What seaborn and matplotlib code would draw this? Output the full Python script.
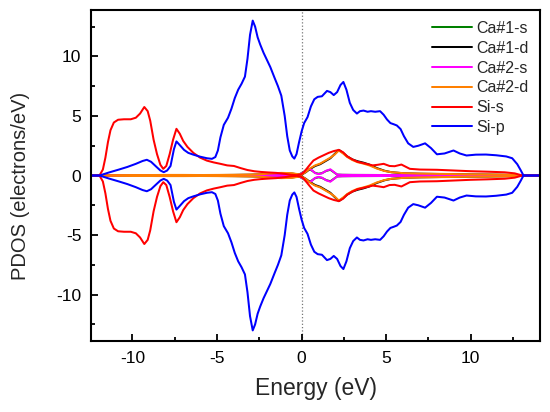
import numpy as np
import pandas as pd
import matplotlib
matplotlib.use("Agg")
import matplotlib.pyplot as plt
import seaborn as sns
from matplotlib.ticker import MultipleLocator

# ---------------- data (spin-up PDOS; spin-down is the mirror) ----------------
series_names = ["Ca#1-s", "Ca#1-d", "Ca#2-s", "Ca#2-d", "Si-s", "Si-p"]
series_colors = ["#008000", "#000000", "#FF00FF", "#FF8000", "#FF0000", "#0000FF"]

ca_s_energy = [-12.45, -11.9, -8.0, -4.0, -1.0, -0.2, 0.1, 0.3, 0.45, 0.6, 0.8, 1.0,
               1.2, 1.45, 1.7, 1.9, 2.1, 2.4, 3.0, 5.0, 8.0, 11.0, 13.12, 14.1]
ca1_s_pdos = [0, 0, 0.01, 0.02, 0.03, 0.05, 0.28, 0.5, 0.52, 0.42, 0.22, 0.15,
              0.2, 0.38, 0.48, 0.28, 0.08, 0.06, 0.05, 0.04, 0.03, 0.02, 0, 0]
ca2_s_pdos = [0, 0, 0.01, 0.02, 0.03, 0.05, 0.25, 0.5, 0.55, 0.45, 0.2, 0.12,
              0.18, 0.4, 0.52, 0.3, 0.08, 0.06, 0.05, 0.04, 0.03, 0.02, 0, 0]

ca_d_energy = [-12.45, -11.9, -11.0, -10.0, -9.0, -8.0, -7.0, -6.0, -5.0, -4.0, -3.0,
               -2.3, -1.8, -1.2, -0.6, -0.25, 0.0, 0.25, 0.5, 0.8, 1.1, 1.4, 1.7,
               1.95, 2.2, 2.45, 2.7, 3.0, 3.3, 3.65, 4.0, 4.45, 4.9, 5.3, 6.0, 7.0,
               8.0, 9.0, 10.0, 11.0, 12.0, 13.0, 13.12, 14.1]
ca1_d_pdos = [0, 0, 0.02, 0.03, 0.03, 0.04, 0.04, 0.03, 0.04, 0.05, 0.07,
              0.1, 0.15, 0.18, 0.17, 0.1, 0.07, 0.28, 0.55, 0.8, 0.95, 1.2, 1.45,
              1.8, 2.15, 1.9, 1.6, 1.35, 1.2, 1.08, 0.92, 0.62, 0.4, 0.28, 0.19, 0.15,
              0.13, 0.11, 0.09, 0.08, 0.06, 0.02, 0, 0]
ca2_d_pdos = [0, 0, 0.03, 0.04, 0.04, 0.05, 0.05, 0.04, 0.05, 0.06, 0.08,
              0.12, 0.18, 0.22, 0.2, 0.12, 0.08, 0.3, 0.6, 0.85, 1.0, 1.25, 1.5,
              1.75, 2.1, 1.85, 1.55, 1.3, 1.12, 1.0, 0.85, 0.58, 0.38, 0.28, 0.2, 0.16,
              0.14, 0.12, 0.1, 0.09, 0.07, 0.02, 0, 0]

si_s_energy = [-12.45, -11.95, -11.75, -11.6, -11.45, -11.3, -11.1, -10.85, -10.5, -10.1,
               -9.8, -9.55, -9.3, -9.1, -8.95, -8.75, -8.55, -8.35, -8.18, -8.0, -7.8,
               -7.6, -7.4, -7.2, -7.0, -6.75, -6.4, -6.0, -5.6, -5.2, -4.8, -4.4, -4.0,
               -3.6, -3.2, -2.8, -2.4, -2.0, -1.5, -1.0, -0.6, -0.27, 0.0, 0.15, 0.4,
               0.7, 1.0, 1.3, 1.6, 1.9, 2.2, 2.45, 2.7, 3.0, 3.3, 3.6, 3.9, 4.2, 4.5,
               4.85, 5.2, 5.5, 5.9, 6.4, 7.0, 8.0, 9.0, 10.0, 11.0, 12.0, 12.6, 13.05, 14.1]
si_s_pdos = [0, 0, 0.5, 1.5, 2.8, 3.8, 4.45, 4.68, 4.72, 4.72,
             4.85, 5.2, 5.75, 5.4, 4.6, 3.0, 1.8, 0.9, 0.56, 0.8, 1.8,
             3.0, 3.92, 3.5, 2.9, 2.4, 1.9, 1.5, 1.25, 1.1, 0.98, 0.85, 0.8,
             0.62, 0.46, 0.36, 0.3, 0.26, 0.22, 0.14, 0.06, 0.03, 0.12, 0.3, 0.75,
             1.26, 1.5, 1.7, 1.9, 2.05, 2.15, 1.95, 1.6, 1.35, 1.15, 1.05, 0.95, 0.85, 0.9,
             0.98, 0.8, 0.78, 0.92, 0.56, 0.5, 0.48, 0.42, 0.36, 0.32, 0.27, 0.18, 0, 0]

si_p_energy = [-12.45, -11.95, -11.4, -10.8, -10.3, -9.8, -9.4, -9.15, -8.9, -8.6, -8.35,
               -8.15, -7.95, -7.75, -7.55, -7.4, -7.2, -6.95, -6.7, -6.4, -6.0, -5.6,
               -5.3, -5.1, -4.95, -4.8, -4.6, -4.35, -4.15, -3.95, -3.75, -3.55, -3.35,
               -3.2, -3.05, -2.89, -2.75, -2.6, -2.45, -2.25, -2.05, -1.85, -1.6, -1.4,
               -1.2, -1.0, -0.85, -0.7, -0.55, -0.43, -0.3, -0.15, 0.0, 0.15, 0.35, 0.55,
               0.75, 0.95, 1.2, 1.5, 1.7, 1.9, 2.1, 2.3, 2.47, 2.65, 2.85, 3.05, 3.27,
               3.45, 3.66, 3.9, 4.1, 4.35, 4.64, 4.85, 5.05, 5.25, 5.45, 5.63, 5.85,
               6.05, 6.3, 6.6, 6.9, 7.3, 7.65, 8.0, 8.45, 8.98, 9.35, 9.75, 10.3, 10.9,
               11.5, 12.1, 12.45, 12.75, 12.95, 13.12, 14.1]
si_p_pdos = [0, 0, 0.25, 0.5, 0.72, 0.98, 1.22, 1.32, 1.15, 0.75, 0.42,
             0.28, 0.42, 0.8, 2.2, 2.86, 2.55, 2.15, 1.9, 1.75, 1.58, 1.45,
             1.4, 1.55, 2.1, 3.2, 4.25, 4.85, 5.6, 6.5, 7.2, 7.7, 8.3,
             9.8, 11.8, 13.0, 12.5, 11.6, 11.0, 10.3, 9.7, 9.1, 8.2, 7.5,
             6.7, 5.0, 3.3, 2.1, 1.6, 1.42, 1.8, 2.8, 3.7, 4.4, 4.9, 5.8,
             6.4, 6.6, 6.65, 7.1, 7.0, 6.75, 7.0, 7.6, 7.85, 7.2, 6.1, 5.5, 5.2,
             5.4, 5.45, 5.35, 5.4, 5.35, 5.4, 5.1, 4.7, 4.4, 4.3, 4.2, 3.9,
             3.3, 2.7, 2.4, 2.5, 2.7, 2.3, 1.78, 1.85, 2.1, 1.85, 1.68, 1.75, 1.76,
             1.7, 1.6, 1.45, 0.95, 0.45, 0, 0]

x_ticks = [-10, -5, 0, 5, 10]
y_ticks = [-10, -5, 0, 5, 10]

# ---------------- build long table ----------------
series_data = [
    ("Ca#1-s", ca_s_energy, ca1_s_pdos),
    ("Ca#1-d", ca_d_energy, ca1_d_pdos),
    ("Ca#2-s", ca_s_energy, ca2_s_pdos),
    ("Ca#2-d", ca_d_energy, ca2_d_pdos),
    ("Si-s", si_s_energy, si_s_pdos),
    ("Si-p", si_p_energy, si_p_pdos),
]
rows = []
for name, e, d in series_data:
    for spin, sign in (("up", 1.0), ("down", -1.0)):
        for xi, yi in zip(e, d):
            rows.append({"Energy": xi, "PDOS": sign * yi, "series": name, "spin": spin})
df = pd.DataFrame(rows)

# ---------------- plotting ----------------
sns.set_theme(style="ticks")
plt.rcParams["font.family"] = ["Liberation Sans", "DejaVu Sans"]
plt.rcParams["axes.unicode_minus"] = False

fig = plt.figure(figsize=(5.5, 4.12), dpi=100)
ax = fig.add_axes([0.1655, 0.172, 0.8165, 0.804])

ax.axvline(0, color="#777777", ls=":", lw=0.9, zorder=0)

sns.lineplot(data=df, x="Energy", y="PDOS", hue="series", units="spin",
             estimator=None, sort=False, hue_order=series_names,
             palette=dict(zip(series_names, series_colors)), linewidth=1.45,
             ax=ax)

ax.set_xlim(-12.45, 14.1)
ax.set_ylim(-13.9, 13.9)
ax.set_xticks(x_ticks)
ax.set_yticks(y_ticks)
ax.xaxis.set_minor_locator(MultipleLocator(2.5))
ax.yaxis.set_minor_locator(MultipleLocator(2.5))
ax.tick_params(which="both", direction="in", top=False, right=False,
               width=1.3, labelsize=12.5, colors="black")
ax.tick_params(which="major", length=5, pad=7)
ax.tick_params(which="minor", length=3)
for s in ax.spines.values():
    s.set_linewidth(1.5)
    s.set_color("black")

ax.set_xlabel("Energy (eV)", fontsize=16.5)
ax.set_ylabel("PDOS (electrons/eV)", fontsize=14.5)
ax.xaxis.set_label_coords(0.5, -0.108)
ax.yaxis.set_label_coords(-0.136, 0.47)

handles, labels = ax.get_legend_handles_labels()
ax.legend(handles, labels, loc="upper right", frameon=False, fontsize=11.5,
          handlelength=2.5, handletextpad=0.3, labelspacing=0.3,
          borderaxespad=0.3, bbox_to_anchor=(1.0, 1.0))

fig.savefig("out.png", dpi=100)
